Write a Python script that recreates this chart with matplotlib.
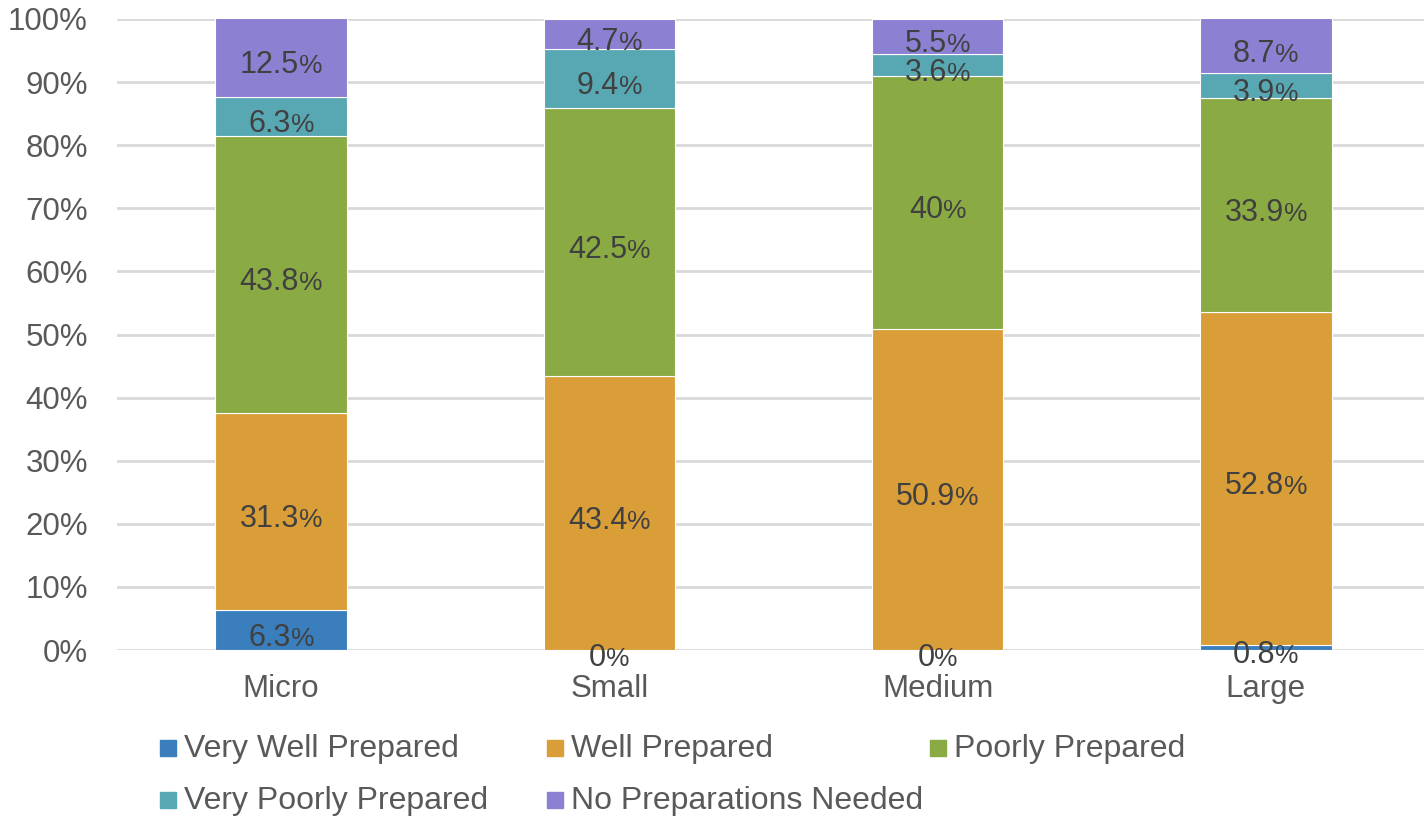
import matplotlib.pyplot as plt
from matplotlib.patches import Rectangle
from matplotlib.transforms import offset_copy
import numpy as np

plt.rcParams['font.family'] = ['Liberation Sans', 'DejaVu Sans']

categories = ['Micro', 'Small', 'Medium', 'Large']
series_names = ['Very Well Prepared', 'Well Prepared', 'Poorly Prepared',
                'Very Poorly Prepared', 'No Preparations Needed']
very_well = [6.3, 0, 0, 0.8]
well = [31.3, 43.4, 50.9, 52.8]
poorly = [43.8, 42.5, 40, 33.9]
very_poorly = [6.3, 9.4, 3.6, 3.9]
no_prep = [12.5, 4.7, 5.5, 8.7]
colors = ['#3A7EBD', '#D99E38', '#8AAA44', '#58A8B3', '#8B80D1']

series = [very_well, well, poorly, very_poorly, no_prep]

fig = plt.figure(figsize=(14.24, 8.16), dpi=100)
ax = fig.add_axes([117 / 1424, 1 - 650 / 816, 1313 / 1424, 631 / 816])
ax.set_xlim(-0.5, 3.5)
ax.set_ylim(0, 100)
renderer = fig.canvas.get_renderer()


def value_label(xc, yc, value):
    # number plus a slightly smaller percent sign, centred as one block
    base = offset_copy(ax.transData, fig=fig, x=0, y=-5, units='dots')
    num = ax.text(xc, yc, f'{value:g}', ha='left', va='baseline',
                  fontsize=22, color='#404040', transform=base, zorder=3)
    pct = ax.text(xc, yc, '%', ha='left', va='baseline',
                  fontsize=19, color='#404040', transform=base, zorder=3)
    w_num = num.get_window_extent(renderer).width
    w_pct = pct.get_window_extent(renderer).width
    total = w_num + w_pct
    h = num.get_window_extent(renderer).height
    shift_y = -5 - 0.36 * h
    num.set_transform(offset_copy(ax.transData, fig=fig, x=-total / 2, y=shift_y, units='dots'))
    pct.set_transform(offset_copy(ax.transData, fig=fig, x=-total / 2 + w_num, y=shift_y, units='dots'))


x = np.arange(len(categories))
bottom = np.zeros(len(categories))
for vals, col in zip(series, colors):
    vals = np.array(vals, dtype=float)
    ax.bar(x, vals, 0.4, bottom=bottom, color=col, edgecolor='white',
           linewidth=0.8, zorder=2)
    for xi, b, v in zip(x, bottom, vals):
        value_label(xi, b + v / 2, v)
    bottom += vals

ax.set_yticks(np.arange(0, 101, 10))
ax.set_yticklabels([f'{t}%' for t in range(0, 101, 10)])
ax.set_xticks(x)
ax.set_xticklabels(categories)
ax.tick_params(length=0, labelsize=22.5, labelcolor='#595959')
ax.tick_params(axis='x', pad=17)
ax.tick_params(axis='y', pad=21)
ax.grid(axis='y', color='#D9D9D9', linewidth=2, zorder=0)
for s in ax.spines.values():
    s.set_visible(False)

# legend drawn by hand, fixed columns
legend_pos = [(160, 748), (547, 748), (930, 748), (160, 800), (547, 800)]
for name, col, (px, py) in zip(series_names, colors, legend_pos):
    fig.patches.append(Rectangle((px / 1424, 1 - (py + 8) / 816), 16 / 1424, 16 / 816,
                                 color=col, transform=fig.transFigure))
    fig.text((px + 24) / 1424, 1 - (py + 1) / 816, name, ha='left', va='center',
             fontsize=23, color='#595959')

fig.savefig('out.png', dpi=100)
